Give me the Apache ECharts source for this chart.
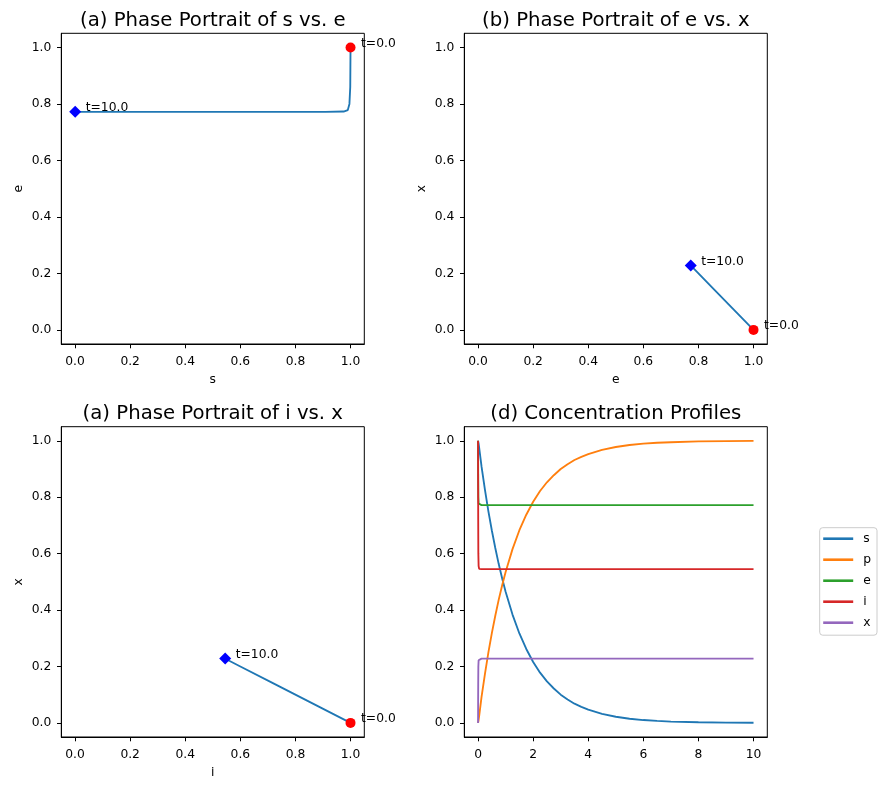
<!DOCTYPE html>
<html>
<head>
<meta charset="utf-8">
<script src="https://cdn.jsdelivr.net/npm/echarts@6/dist/echarts.min.js"></script>
<style>
  html, body { margin: 0; padding: 0; background: #fff; }
  #chart { width: 887px; height: 790px; }
</style>
</head>
<body>
<div id="chart"></div>
<script>
// time samples and concentrations
const t = [0, 0.002, 0.005, 0.01, 0.02, 0.04, 0.125, 0.25, 0.375, 0.5, 0.625, 0.75, 0.875, 1,
  1.25, 1.5, 1.75, 2, 2.25, 2.5, 2.75, 3, 3.25, 3.5, 3.75, 4, 4.5, 5, 5.5, 6, 6.5, 7, 8, 9, 10]
const s = [1.0, 0.9995, 0.999, 0.996, 0.99, 0.975, 0.909, 0.826, 0.750, 0.682, 0.620, 0.563, 0.512, 0.465,
  0.384, 0.317, 0.262, 0.216, 0.178, 0.147, 0.122, 0.100, 0.083, 0.068, 0.057, 0.047, 0.032, 0.0217, 0.0148, 0.0101, 0.0069, 0.0047, 0.0022, 0.001, 0.0005]
const p = [0, 0.0005, 0.001, 0.004, 0.01, 0.025, 0.091, 0.174, 0.250, 0.318, 0.380, 0.437, 0.488, 0.535,
  0.616, 0.683, 0.738, 0.784, 0.822, 0.853, 0.878, 0.900, 0.917, 0.932, 0.943, 0.953, 0.968, 0.978, 0.985, 0.990, 0.993, 0.995, 0.998, 0.999, 0.9995]
const e = [1.0, 0.93, 0.86, 0.8, 0.778, 0.773, 0.772, 0.772, 0.772, 0.772, 0.772, 0.772, 0.772, 0.772,
  0.772, 0.772, 0.772, 0.772, 0.772, 0.772, 0.772, 0.772, 0.772, 0.772, 0.772, 0.772, 0.772, 0.772, 0.772, 0.772, 0.772, 0.772, 0.772, 0.772, 0.772]
const iv = [1.0, 0.86, 0.72, 0.6, 0.556, 0.546, 0.545, 0.545, 0.545, 0.545, 0.545, 0.545, 0.545, 0.545,
  0.545, 0.545, 0.545, 0.545, 0.545, 0.545, 0.545, 0.545, 0.545, 0.545, 0.545, 0.545, 0.545, 0.545, 0.545, 0.545, 0.545, 0.545, 0.545, 0.545, 0.545]
const xv = [0, 0.07, 0.14, 0.2, 0.222, 0.227, 0.228, 0.228, 0.228, 0.228, 0.228, 0.228, 0.228, 0.228,
  0.228, 0.228, 0.228, 0.228, 0.228, 0.228, 0.228, 0.228, 0.228, 0.228, 0.228, 0.228, 0.228, 0.228, 0.228, 0.228, 0.228, 0.228, 0.228, 0.228, 0.228]

const seriesNames = ['s', 'p', 'e', 'i', 'x']
const seriesColors = ['#1f77b4', '#ff7f0e', '#2ca02c', '#d62728', '#9467bd']
const unitTicks = [0, 0.2, 0.4, 0.6, 0.8, 1.0]
const timeTicks = [0, 2, 4, 6, 8, 10]

const titles = [
  '(a) Phase Portrait of s vs. e',
  '(b) Phase Portrait of e vs. x',
  '(a) Phase Portrait of i vs. x',
  '(d) Concentration Profiles',
]
// [x values, y values, x label, y label] for the three phase portraits
const phases = [
  [s, e, 's', 'e'],
  [e, xv, 'e', 'x'],
  [iv, xv, 'i', 'x'],
]

const FONT = 'DejaVu Sans'
const TICK_FS = 12.3

const grids = [
  { left: 61.3, top: 33.3, width: 303, height: 310.7 },
  { left: 464.3, top: 33.3, width: 303, height: 310.7 },
  { left: 61.3, top: 426.7, width: 303, height: 310.3 },
  { left: 464.3, top: 426.7, width: 303, height: 310.3 },
].map(g => ({ ...g, show: true, borderColor: '#000', borderWidth: 1, containLabel: false }))

function axis(kind, gi, min, max, ticks, fmt, name) {
  return {
    type: 'value',
    gridIndex: gi,
    min, max,
    name: name || '',
    nameLocation: 'middle',
    nameGap: kind === 'x' ? 30 : 36.5,
    nameTextStyle: { fontFamily: FONT, fontSize: TICK_FS, color: '#000' },
    axisLine: { show: true, onZero: false, lineStyle: { color: '#000', width: 1 } },
    axisTick: { show: true, length: 4.3, inside: false, customValues: ticks, lineStyle: { color: '#000', width: 1 } },
    axisLabel: { show: true, customValues: ticks, margin: kind === 'x' ? 11.5 : 10, formatter: fmt,
      fontFamily: FONT, fontSize: TICK_FS, color: '#000' },
    splitLine: { show: false },
  }
}

const fmt1 = v => v.toFixed(1)
const fmt0 = v => String(Math.round(v))

const xAxes = [], yAxes = [], series = []
const last = t.length - 1

phases.forEach(([xs, ys, xn, yn], gi) => {
  xAxes.push(axis('x', gi, -0.05, 1.05, unitTicks, fmt1, xn))
  yAxes.push(axis('y', gi, -0.05, 1.05, unitTicks, fmt1, yn))
  const label = (txt, dist) => ({
    show: true, position: 'right', distance: dist, offset: [0, -4], formatter: txt,
    fontFamily: FONT, fontSize: TICK_FS, color: '#000',
  })
  series.push({
    name: 'phase-' + gi, type: 'line', xAxisIndex: gi, yAxisIndex: gi,
    data: t.map((_, k) => [xs[k], ys[k]]),
    symbol: 'none', lineStyle: { color: '#1f77b4', width: 1.85 }, z: 2,
  })
  series.push({
    name: 'start-' + gi, type: 'scatter', xAxisIndex: gi, yAxisIndex: gi,
    data: [[xs[0], ys[0]]], symbol: 'circle', symbolSize: 10,
    itemStyle: { color: '#ff0000', opacity: 1 }, label: label('t=' + t[0].toFixed(1), 5.5), z: 3,
  })
  series.push({
    name: 'end-' + gi, type: 'scatter', xAxisIndex: gi, yAxisIndex: gi,
    data: [[xs[last], ys[last]]], symbol: 'diamond', symbolSize: 12,
    itemStyle: { color: '#0000ff', opacity: 1 }, label: label('t=' + t[last].toFixed(1), 4.5), z: 3,
  })
})

xAxes.push(axis('x', 3, -0.5, 10.5, timeTicks, fmt0))
yAxes.push(axis('y', 3, -0.05, 1.05, unitTicks, fmt1))
;[s, p, e, iv, xv].forEach((vals, k) => {
  series.push({
    name: seriesNames[k], type: 'line', xAxisIndex: 3, yAxisIndex: 3,
    data: t.map((tt, j) => [tt, vals[j]]),
    symbol: 'none', color: seriesColors[k],
    lineStyle: { color: seriesColors[k], width: 1.85 }, z: 2 + k * 0.01,
  })
})

const titleCenters = [
  [212.8, 21], [615.8, 21], [212.8, 414], [615.8, 414],
]

const option = {
  animation: false,
  backgroundColor: '#fff',
  title: titles.map((txt, k) => ({
    text: txt, left: titleCenters[k][0], top: titleCenters[k][1], padding: 0,
    textAlign: 'center', textVerticalAlign: 'middle',
    textStyle: { fontFamily: FONT, fontSize: 19.7, fontWeight: 'normal', color: '#000' },
  })),
  legend: {
    data: seriesNames.map(n => ({ name: n, icon: 'rect' })),
    orient: 'vertical',
    left: 819.7, top: 527.7,
    padding: [4, 6, 5.5, 3.5],
    itemWidth: 30, itemHeight: 2.6, itemGap: 7,
    borderColor: '#cccccc', borderWidth: 1, borderRadius: 3,
    backgroundColor: 'rgba(255,255,255,0.8)',
    textStyle: { fontFamily: FONT, fontSize: TICK_FS, color: '#000', lineHeight: 14, padding: [0, 0, 0, 5] },
  },
  grid: grids,
  xAxis: xAxes,
  yAxis: yAxes,
  series,
}

const chart = echarts.init(document.getElementById('chart'), null, { renderer: 'canvas' })
chart.setOption(option)
</script>
</body>
</html>
